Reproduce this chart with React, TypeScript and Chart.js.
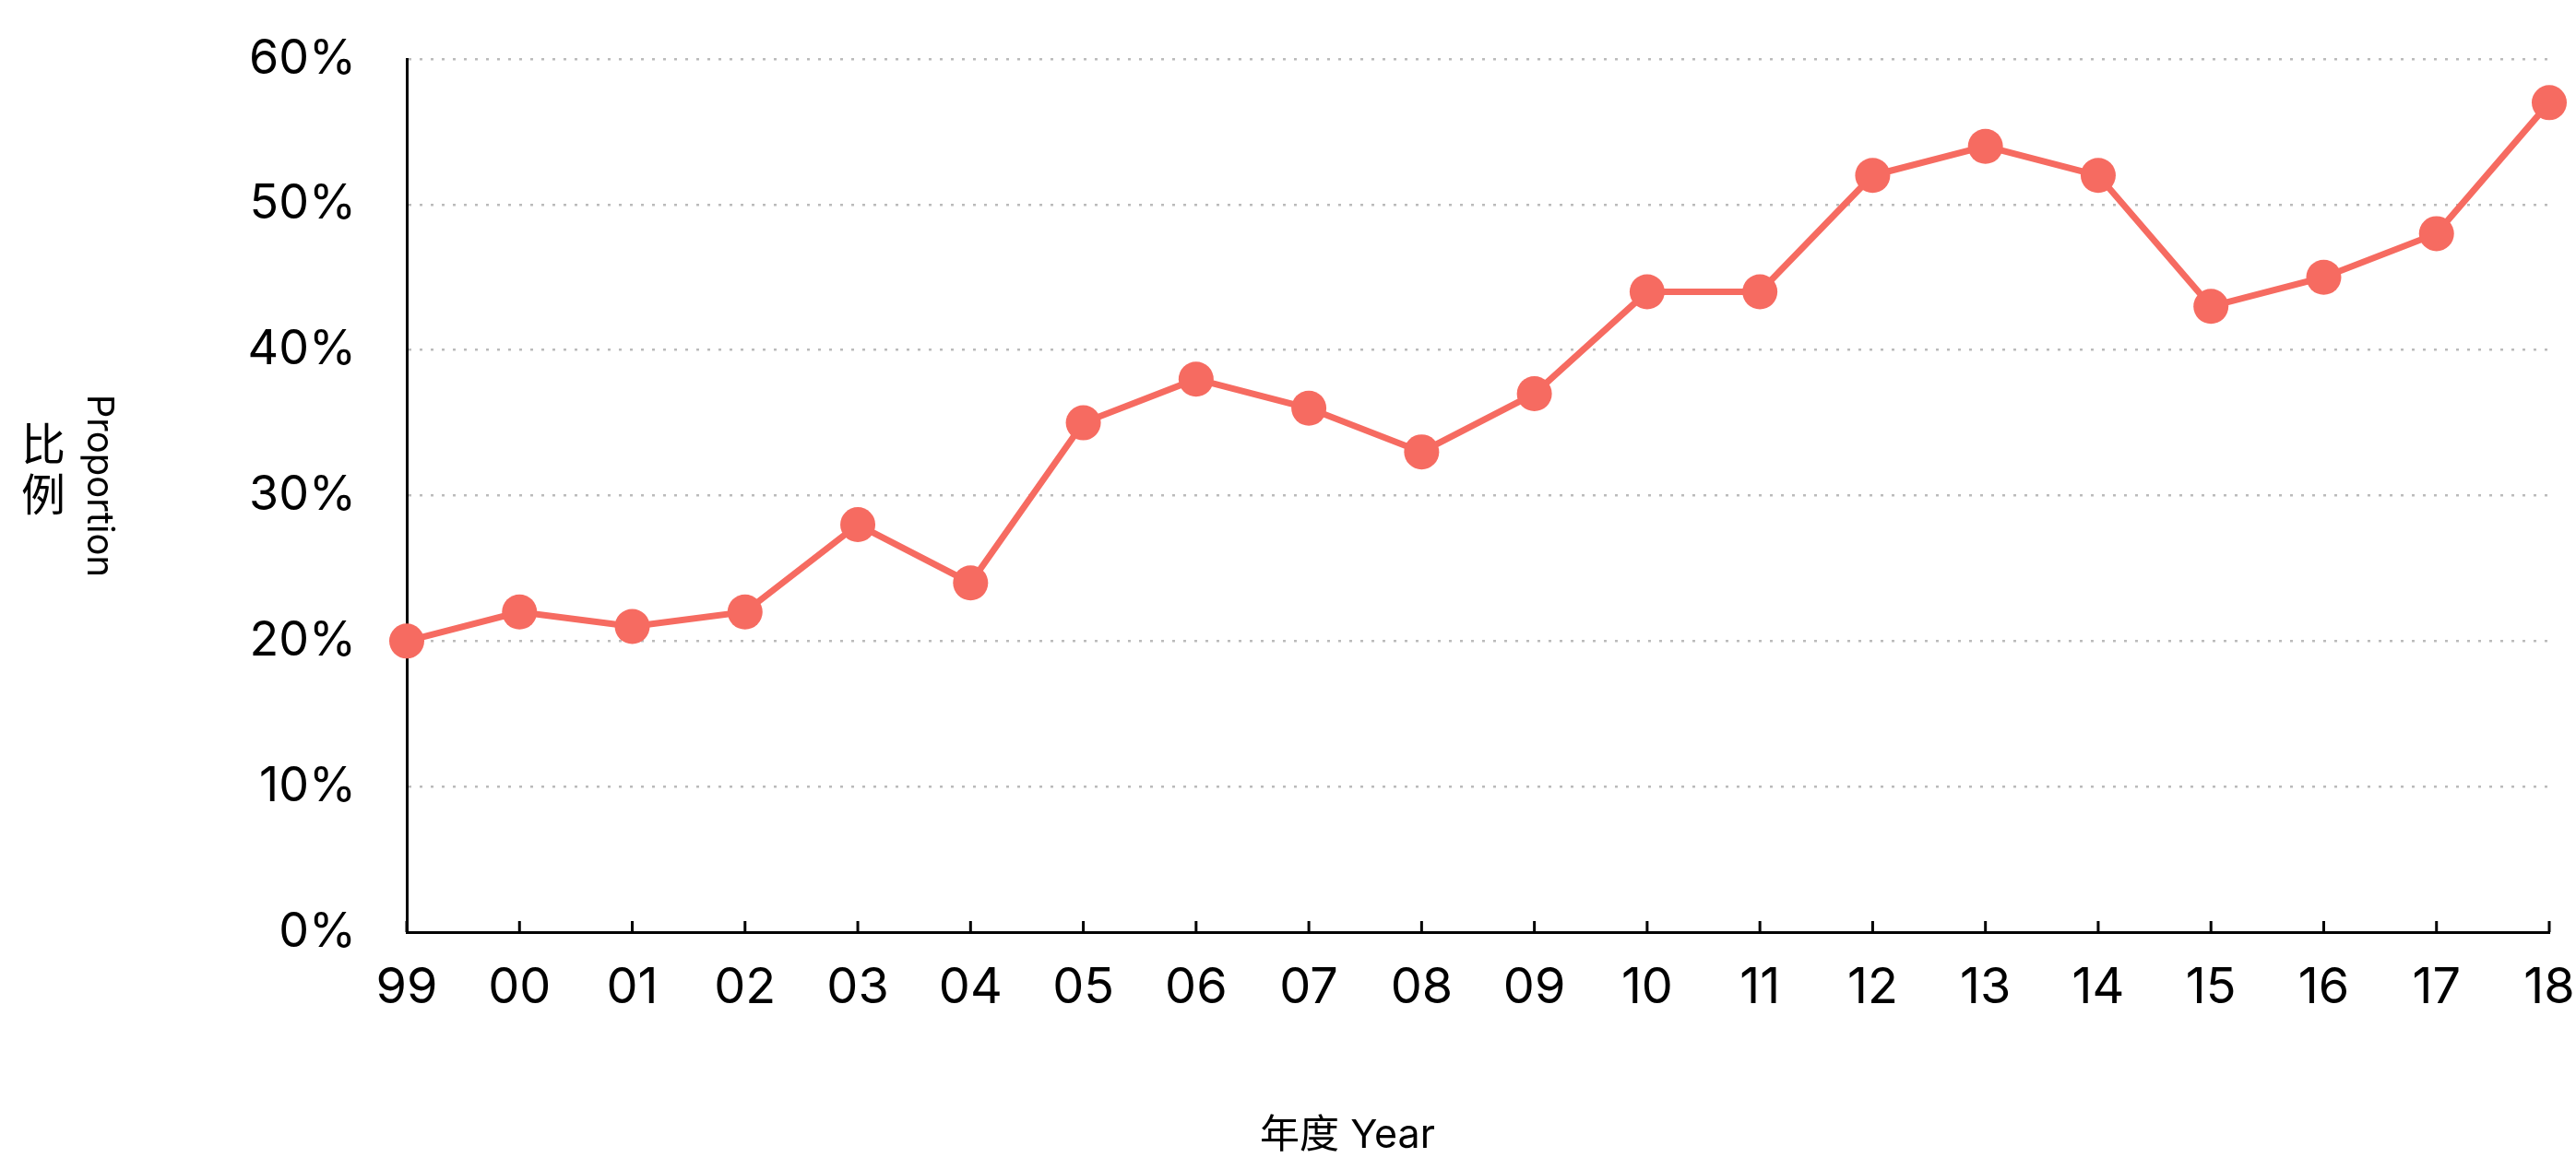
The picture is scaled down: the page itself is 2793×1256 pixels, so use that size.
import React, { useEffect, useRef } from "react";
import { Chart, registerables } from "chart.js";

Chart.register(...registerables);

const years = ["99", "00", "01", "02", "03", "04", "05", "06", "07", "08", "09", "10", "11", "12", "13", "14", "15", "16", "17", "18"];
const proportion = [20, 22, 21, 22, 28, 24, 35, 38, 36, 33, 37, 44, 44, 52, 54, 52, 43, 45, 48, 57];
const yMin = 0;
const yMax = 60;
const yStep = 10;
const yTitleZh = ["比", "例"];
const yTitleEn = "Proportion";
const xTitle = "年度 Year";

const LINE_COLOR = "#F66B61";
const FONT = "Inter, 'Noto Sans CJK SC', sans-serif";

const decorPlugin = {
  id: "decor",
  afterDraw(chart: any) {
    const ctx = chart.ctx;
    const xs = chart.scales.x;
    const area = chart.chartArea;
    ctx.save();
    ctx.strokeStyle = "#000";
    ctx.lineWidth = 3;
    xs.ticks.forEach((_: any, i: number) => {
      const x = xs.getPixelForTick(i);
      ctx.beginPath();
      ctx.moveTo(x, area.bottom);
      ctx.lineTo(x, area.bottom - 12);
      ctx.stroke();
    });
    ctx.fillStyle = "#000";
    ctx.textAlign = "center";
    ctx.textBaseline = "middle";
    ctx.font = "48px 'Noto Sans CJK SC'";
    ctx.fillText(yTitleZh[0], 47, 481);
    ctx.fillText(yTitleZh[1], 47, 536);
    ctx.save();
    ctx.translate(107, 527);
    ctx.rotate(Math.PI / 2);
    ctx.font = "40px " + FONT;
    ctx.fillText(yTitleEn, 0, 0);
    ctx.restore();
    ctx.font = "43px " + FONT;
    ctx.fillText(xTitle, 1461, 1232);
    ctx.restore();
  },
};

export default function App() {
  const ref = useRef<HTMLCanvasElement | null>(null);
  useEffect(() => {
    if (!ref.current) return;
    const chart = new Chart(ref.current, {
      type: "line",
      data: {
        labels: years,
        datasets: [
          {
            data: proportion,
            borderColor: LINE_COLOR,
            backgroundColor: LINE_COLOR,
            borderWidth: 7,
            pointRadius: 19,
            pointBorderWidth: 0,
            pointBackgroundColor: LINE_COLOR,
            tension: 0,
            clip: false as any,
          },
        ],
      },
      options: {
        responsive: false,
        animation: false,
        devicePixelRatio: 1,
        layout: { padding: { left: 0, top: 64, right: 29, bottom: 0 } },
        plugins: { legend: { display: false }, tooltip: { enabled: false } },
        scales: {
          x: {
            type: "category",
            offset: false,
            grid: { display: false, drawTicks: false },
            border: { display: true, color: "#000", width: 3 },
            ticks: {
              color: "#000",
              font: { size: 54, family: FONT },
              padding: 28,
              maxRotation: 0,
              autoSkip: false,
            },
            afterFit(scale: any) {
              scale.height = 245;
              scale.paddingLeft = 0;
              scale.paddingRight = 0;
            },
          },
          y: {
            min: yMin,
            max: yMax,
            grid: { color: "#bbbbbb", lineWidth: 2.5, drawTicks: false },
            border: { display: true, color: "#000", width: 3, dash: [3, 9] },
            ticks: {
              stepSize: yStep,
              color: "#000",
              font: { size: 52, family: FONT },
              padding: 55,
              callback: (v: any) => v + "%",
            },
            afterFit(scale: any) {
              scale.width = 441;
              scale.paddingTop = 0;
              scale.paddingBottom = 0;
            },
          },
        },
      },
      plugins: [decorPlugin],
    } as any);
    return () => chart.destroy();
  }, []);
  return (
    <div style={{ position: "absolute", left: 0, top: 0, width: 2793, height: 1256, background: "#fff" }}>
      <canvas ref={ref} width={2793} height={1256} style={{ width: 2793, height: 1256 }} />
    </div>
  );
}
